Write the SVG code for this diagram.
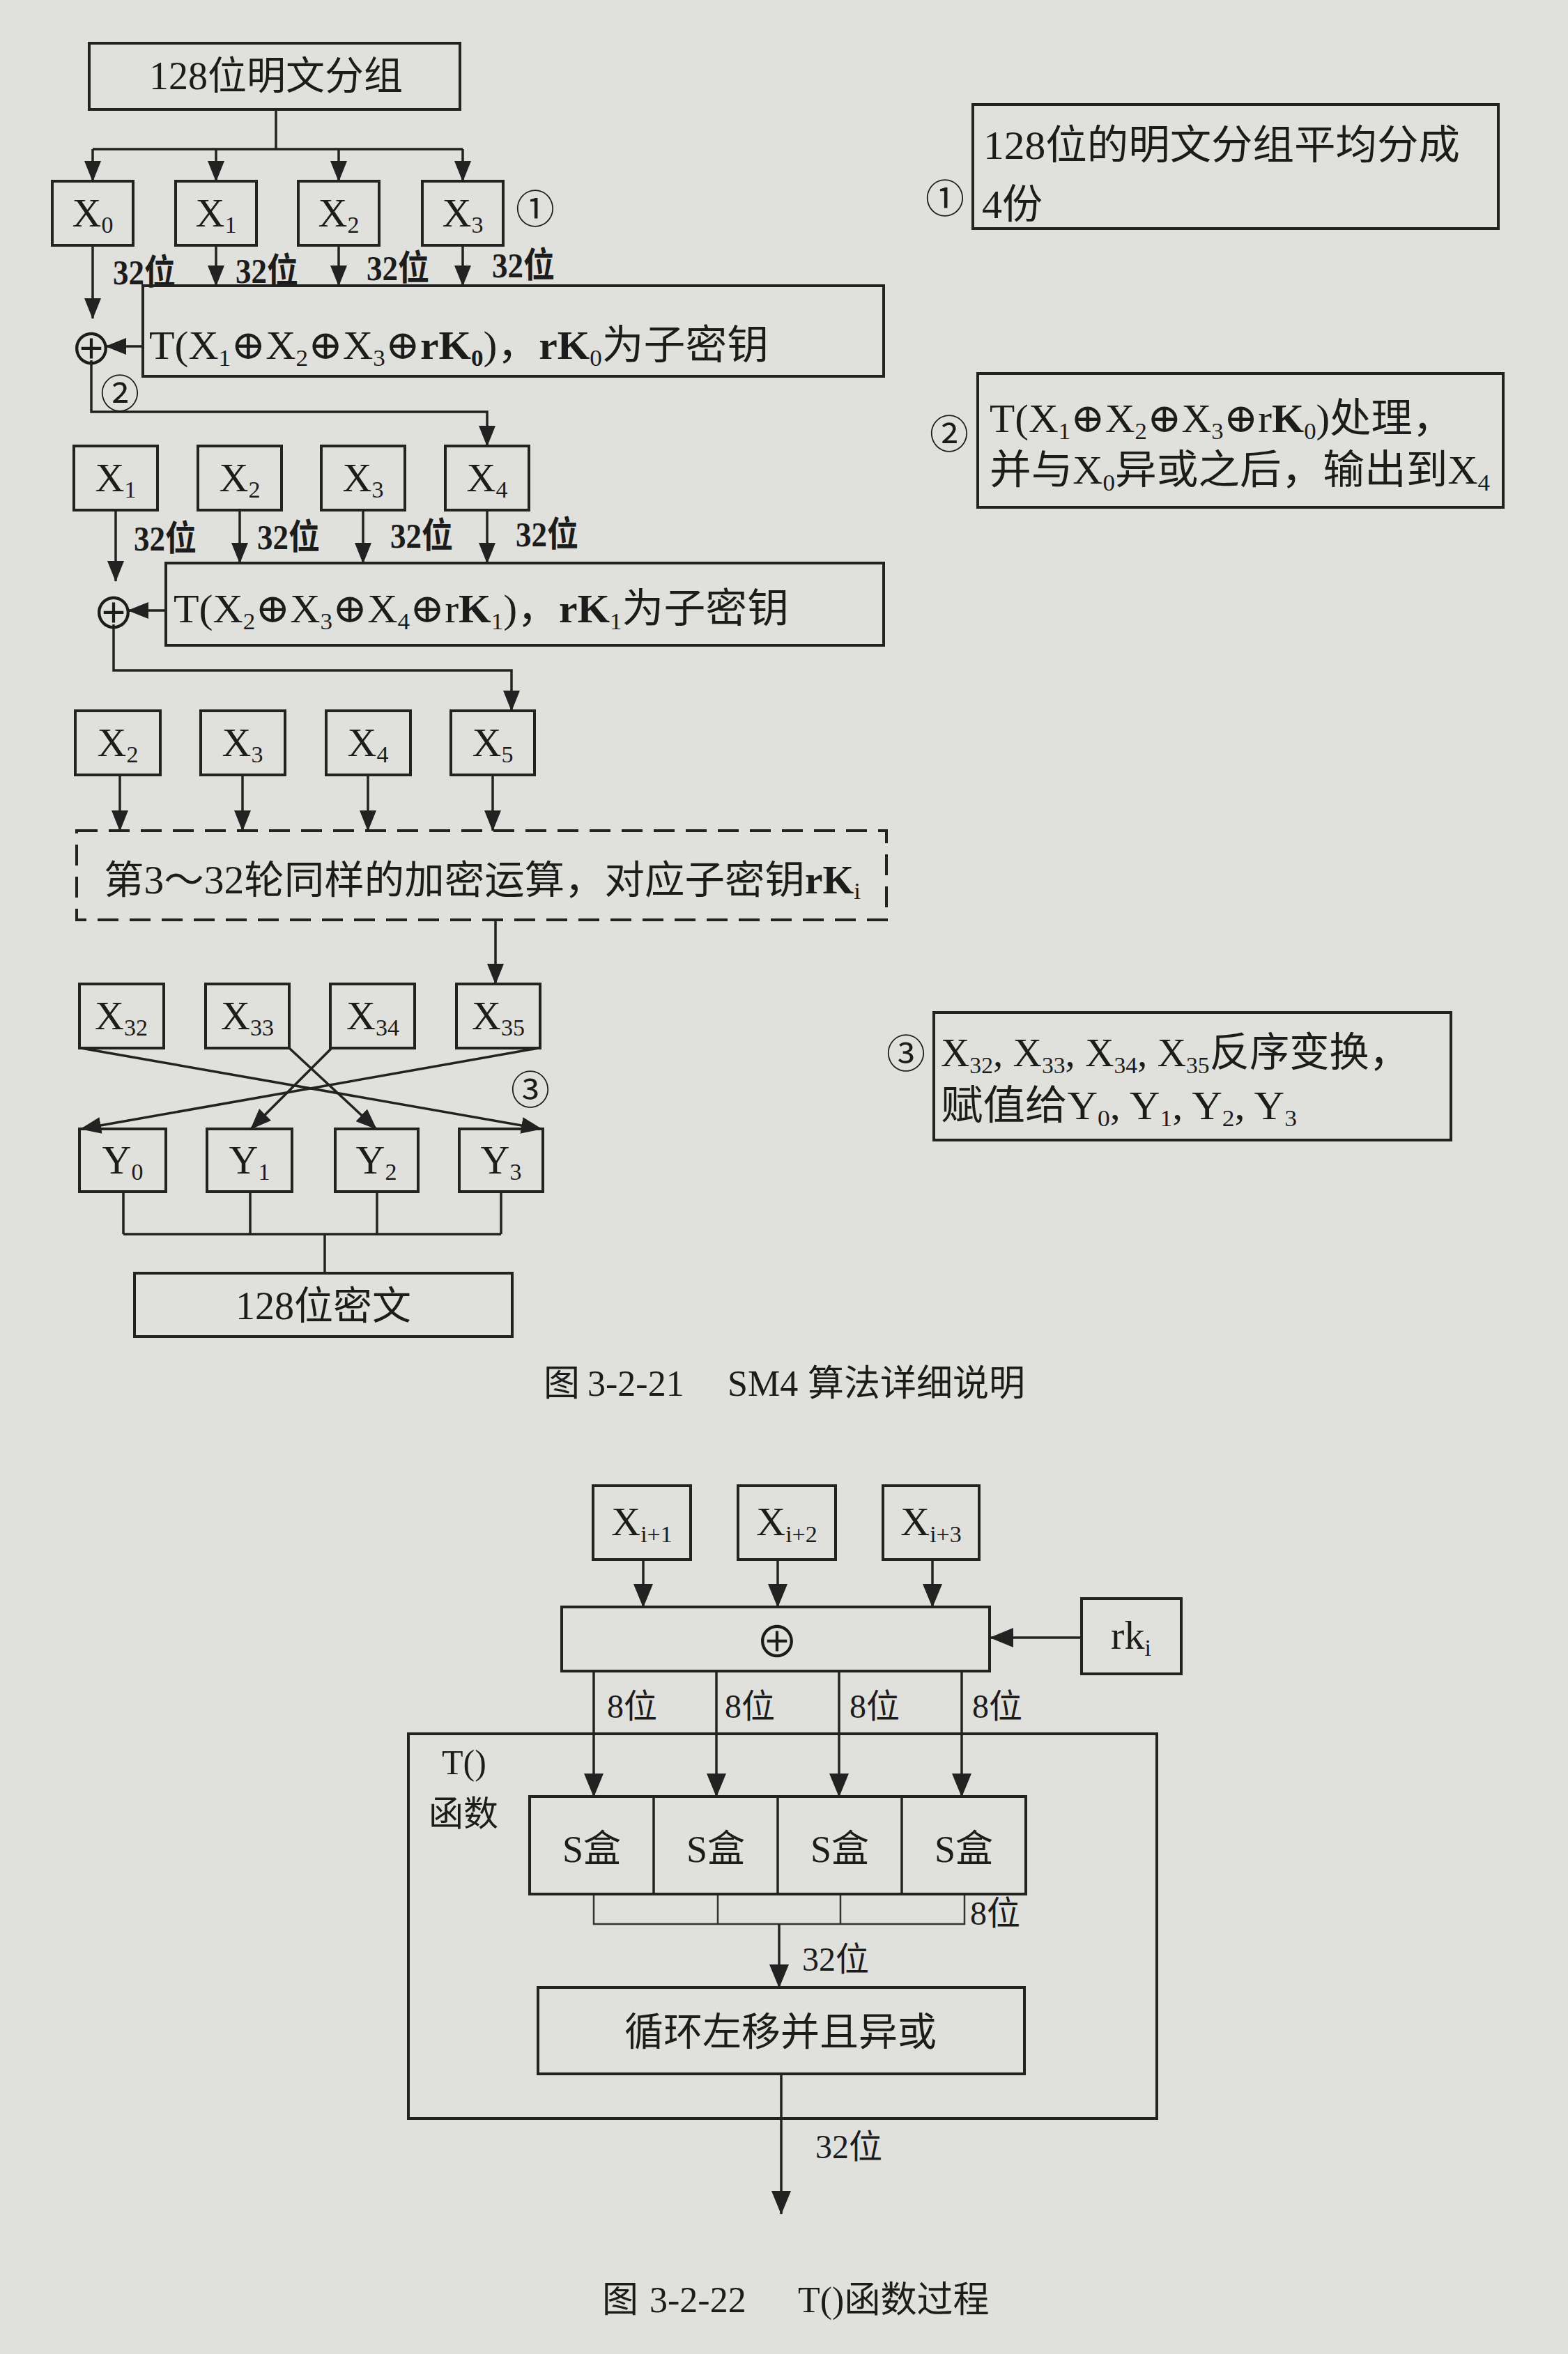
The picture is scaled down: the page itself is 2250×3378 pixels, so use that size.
<svg xmlns="http://www.w3.org/2000/svg" width="2250" height="3378" viewBox="0 0 2250 3378">
<defs>
<style>
.bx{fill:none;stroke:#222;stroke-width:4}
.ln{fill:none;stroke:#222;stroke-width:3.5}
.thin{fill:none;stroke:#333;stroke-width:2.5}
.dash{fill:none;stroke:#222;stroke-width:4;stroke-dasharray:30 16}
text{font-family:"Liberation Serif","DejaVu Serif","DejaVu Sans","Noto Sans CJK SC",serif;fill:#1c1c1c}
.c{font-family:"Noto Sans CJK SC","DejaVu Sans",sans-serif;font-size:56px}
.x{font-family:"Noto Sans CJK SC","DejaVu Sans",sans-serif;font-size:62px}
.s{font-size:34px}
.lb{font-weight:bold;font-size:50px}
.m{font-size:58px}
</style>
<marker id="ah" viewBox="0 0 30 24" refX="29" refY="12" markerWidth="30" markerHeight="24" markerUnits="userSpaceOnUse" orient="auto"><path d="M0,0 L30,12 L0,24 z" fill="#222"/></marker>
<marker id="ah2" viewBox="0 0 34 28" refX="33" refY="14" markerWidth="34" markerHeight="28" markerUnits="userSpaceOnUse" orient="auto"><path d="M0,0 L34,14 L0,28 z" fill="#222"/></marker>
</defs>
<rect x="0" y="0" width="2250" height="3378" fill="#e0e0dc"/>

<g id="connectors">
<path class="ln" d="M396,157 V214 M133,214 H664"/>
<path class="ln" marker-end="url(#ah)" d="M133,214 V260"/>
<path class="ln" marker-end="url(#ah)" d="M310,214 V260"/>
<path class="ln" marker-end="url(#ah)" d="M486,214 V260"/>
<path class="ln" marker-end="url(#ah)" d="M664,214 V260"/>
<path class="ln" marker-end="url(#ah)" d="M133,352 V457"/>
<path class="ln" marker-end="url(#ah)" d="M310,352 V410"/>
<path class="ln" marker-end="url(#ah)" d="M486,352 V410"/>
<path class="ln" marker-end="url(#ah)" d="M664,352 V410"/>
<path class="ln" marker-end="url(#ah)" d="M205,497 H152"/>
<path class="ln" marker-end="url(#ah)" d="M131,517 V591 H699 V640"/>
<path class="ln" marker-end="url(#ah)" d="M166,732 V834"/>
<path class="ln" marker-end="url(#ah)" d="M344,732 V808"/>
<path class="ln" marker-end="url(#ah)" d="M521,732 V808"/>
<path class="ln" marker-end="url(#ah)" d="M699,732 V808"/>
<path class="ln" marker-end="url(#ah)" d="M238,876 H184"/>
<path class="ln" marker-end="url(#ah)" d="M163,896 V962 H734 V1020"/>
<path class="ln" marker-end="url(#ah)" d="M172,1112 V1192"/>
<path class="ln" marker-end="url(#ah)" d="M348,1112 V1192"/>
<path class="ln" marker-end="url(#ah)" d="M528,1112 V1192"/>
<path class="ln" marker-end="url(#ah)" d="M707,1112 V1192"/>
<path class="ln" marker-end="url(#ah)" d="M711,1320 V1412"/>
<path class="ln" marker-end="url(#ah)" d="M116,1504 L777,1620"/>
<path class="ln" marker-end="url(#ah)" d="M773,1504 L116,1620"/>
<path class="ln" marker-end="url(#ah)" d="M415,1504 L540,1620"/>
<path class="ln" marker-end="url(#ah)" d="M476,1504 L360,1620"/>
<path class="ln" d="M177,1710 V1771 M359,1710 V1771 M541,1710 V1771 M719,1710 V1771 M177,1771 H719 M466,1771 V1827"/>
<path class="ln" marker-end="url(#ah2)" d="M923,2238 V2306"/>
<path class="ln" marker-end="url(#ah2)" d="M1116,2238 V2306"/>
<path class="ln" marker-end="url(#ah2)" d="M1338,2238 V2306"/>
<path class="ln" marker-end="url(#ah2)" d="M1552,2350 H1421"/>
<path class="ln" marker-end="url(#ah2)" d="M852,2398 V2578"/>
<path class="ln" marker-end="url(#ah2)" d="M1028,2398 V2578"/>
<path class="ln" marker-end="url(#ah2)" d="M1204,2398 V2578"/>
<path class="ln" marker-end="url(#ah2)" d="M1380,2398 V2578"/>
<path class="thin" d="M852,2718 V2761 H1384 V2718 M1030,2718 V2761 M1206,2718 V2761"/>
<path class="ln" marker-end="url(#ah2)" d="M1118,2761 V2852"/>
<path class="ln" marker-end="url(#ah2)" d="M1121,2976 V3177"/>
<text class="lb" x="162" y="408" textLength="90" lengthAdjust="spacingAndGlyphs">32位</text>
<text class="lb" x="338" y="406" textLength="90" lengthAdjust="spacingAndGlyphs">32位</text>
<text class="lb" x="526" y="402" textLength="90" lengthAdjust="spacingAndGlyphs">32位</text>
<text class="lb" x="706" y="398" textLength="90" lengthAdjust="spacingAndGlyphs">32位</text>
<text class="lb" x="192" y="790" textLength="90" lengthAdjust="spacingAndGlyphs">32位</text>
<text class="lb" x="369" y="788" textLength="90" lengthAdjust="spacingAndGlyphs">32位</text>
<text class="lb" x="560" y="786" textLength="90" lengthAdjust="spacingAndGlyphs">32位</text>
<text class="lb" x="740" y="784" textLength="90" lengthAdjust="spacingAndGlyphs">32位</text>
<text font-size="48" x="871" y="2465">8位</text>
<text font-size="48" x="1040" y="2465">8位</text>
<text font-size="48" x="1219" y="2465">8位</text>
<text font-size="48" x="1395" y="2465">8位</text>
<text font-size="48" x="1392" y="2762">8位</text>
<text font-size="48" x="1151" y="2828">32位</text>
<text font-size="48" x="1170" y="3097">32位</text>
</g>

<g id="plaintext">
<rect class="bx" x="128" y="62" width="532" height="95"/>
<text x="396" y="128" font-size="56" text-anchor="middle">128位明文分组</text>
</g>

<g id="row1">
<rect class="bx" x="75" y="260" width="116" height="92"/>
<text class="m" x="133" y="325" text-anchor="middle">X<tspan class="s" dy="9">0</tspan></text>
<rect class="bx" x="252" y="260" width="116" height="92"/>
<text class="m" x="310" y="325" text-anchor="middle">X<tspan class="s" dy="9">1</tspan></text>
<rect class="bx" x="428" y="260" width="116" height="92"/>
<text class="m" x="486" y="325" text-anchor="middle">X<tspan class="s" dy="9">2</tspan></text>
<rect class="bx" x="606" y="260" width="116" height="92"/>
<text class="m" x="664" y="325" text-anchor="middle">X<tspan class="s" dy="9">3</tspan></text>
<text class="c" x="768" y="295" text-anchor="middle" dominant-baseline="central">①</text>
</g>

<g id="round1">
<rect class="bx" x="205" y="410" width="1063" height="130"/>
<text class="m" x="214" y="515" textLength="889" lengthAdjust="spacingAndGlyphs">T(X<tspan class="s" dy="10">1</tspan><tspan dy="-10">⊕X</tspan><tspan class="s" dy="10">2</tspan><tspan dy="-10">⊕X</tspan><tspan class="s" dy="10">3</tspan><tspan dy="-10">⊕</tspan><tspan font-weight="bold">rK</tspan><tspan class="s" font-weight="bold" dy="10">0</tspan><tspan dy="-10">)，</tspan><tspan font-weight="bold">rK</tspan><tspan class="s" dy="10">0</tspan><tspan dy="-10">为子密钥</tspan></text>
<text class="x" x="131" y="497" text-anchor="middle" dominant-baseline="central">⊕</text>
<text class="c" x="172" y="560" text-anchor="middle" dominant-baseline="central">②</text>
</g>

<g id="row2">
<rect class="bx" x="106" y="640" width="120" height="92"/>
<text class="m" x="166" y="705" text-anchor="middle">X<tspan class="s" dy="9">1</tspan></text>
<rect class="bx" x="284" y="640" width="120" height="92"/>
<text class="m" x="344" y="705" text-anchor="middle">X<tspan class="s" dy="9">2</tspan></text>
<rect class="bx" x="461" y="640" width="120" height="92"/>
<text class="m" x="521" y="705" text-anchor="middle">X<tspan class="s" dy="9">3</tspan></text>
<rect class="bx" x="639" y="640" width="120" height="92"/>
<text class="m" x="699" y="705" text-anchor="middle">X<tspan class="s" dy="9">4</tspan></text>
</g>

<g id="round2">
<rect class="bx" x="238" y="808" width="1030" height="118"/>
<text class="m" x="249" y="893" textLength="883" lengthAdjust="spacingAndGlyphs">T(X<tspan class="s" dy="10">2</tspan><tspan dy="-10">⊕X</tspan><tspan class="s" dy="10">3</tspan><tspan dy="-10">⊕X</tspan><tspan class="s" dy="10">4</tspan><tspan dy="-10">⊕r</tspan><tspan font-weight="bold">K</tspan><tspan class="s" dy="10">1</tspan><tspan dy="-10">)，</tspan><tspan font-weight="bold">rK</tspan><tspan class="s" dy="10">1</tspan><tspan dy="-10">为子密钥</tspan></text>
<text class="x" x="163" y="876" text-anchor="middle" dominant-baseline="central">⊕</text>
</g>

<g id="row3">
<rect class="bx" x="108" y="1020" width="122" height="92"/>
<text class="m" x="169" y="1085" text-anchor="middle">X<tspan class="s" dy="9">2</tspan></text>
<rect class="bx" x="288" y="1020" width="121" height="92"/>
<text class="m" x="348" y="1085" text-anchor="middle">X<tspan class="s" dy="9">3</tspan></text>
<rect class="bx" x="468" y="1020" width="121" height="92"/>
<text class="m" x="528" y="1085" text-anchor="middle">X<tspan class="s" dy="9">4</tspan></text>
<rect class="bx" x="647" y="1020" width="120" height="92"/>
<text class="m" x="707" y="1085" text-anchor="middle">X<tspan class="s" dy="9">5</tspan></text>
</g>

<g id="rounds3to32">
<rect class="dash" x="110" y="1192" width="1162" height="128"/>
<text font-size="56" x="149" y="1282" textLength="1086" lengthAdjust="spacingAndGlyphs">第3～32轮同样的加密运算，对应子密钥<tspan font-weight="bold">rK</tspan><tspan class="s" dy="8">i</tspan></text>
</g>

<g id="row4">
<rect class="bx" x="114" y="1412" width="121" height="92"/>
<text class="m" x="174" y="1477" text-anchor="middle">X<tspan class="s" dy="9">32</tspan></text>
<rect class="bx" x="295" y="1412" width="120" height="92"/>
<text class="m" x="355" y="1477" text-anchor="middle">X<tspan class="s" dy="9">33</tspan></text>
<rect class="bx" x="474" y="1412" width="121" height="92"/>
<text class="m" x="535" y="1477" text-anchor="middle">X<tspan class="s" dy="9">34</tspan></text>
<rect class="bx" x="655" y="1412" width="120" height="92"/>
<text class="m" x="715" y="1477" text-anchor="middle">X<tspan class="s" dy="9">35</tspan></text>
<text class="c" x="761" y="1559" text-anchor="middle" dominant-baseline="central">③</text>
</g>

<g id="rowY">
<rect class="bx" x="114" y="1620" width="124" height="90"/>
<text class="m" x="176" y="1684" text-anchor="middle">Y<tspan class="s" dy="9">0</tspan></text>
<rect class="bx" x="297" y="1620" width="122" height="90"/>
<text class="m" x="358" y="1684" text-anchor="middle">Y<tspan class="s" dy="9">1</tspan></text>
<rect class="bx" x="481" y="1620" width="119" height="90"/>
<text class="m" x="540" y="1684" text-anchor="middle">Y<tspan class="s" dy="9">2</tspan></text>
<rect class="bx" x="659" y="1620" width="120" height="90"/>
<text class="m" x="719" y="1684" text-anchor="middle">Y<tspan class="s" dy="9">3</tspan></text>
</g>

<g id="ciphertext">
<rect class="bx" x="193" y="1827" width="542" height="91"/>
<text x="464" y="1893" font-size="56" text-anchor="middle">128位密文</text>
</g>

<g id="caption1">
<text font-size="52" y="2003"><tspan x="780">图</tspan><tspan x="843">3-2-21</tspan><tspan x="1044">SM4</tspan><tspan x="1159">算法详细说明</tspan></text>
</g>

<g id="note1">
<text class="c" x="1356" y="280" text-anchor="middle" dominant-baseline="central">①</text>
<rect class="bx" x="1396" y="150" width="754" height="178"/>
<text font-size="58" x="1411" y="228" textLength="684" lengthAdjust="spacingAndGlyphs">128位的明文分组平均分成</text>
<text font-size="58" x="1409" y="313">4份</text>
</g>

<g id="note2">
<text class="c" x="1362" y="618" text-anchor="middle" dominant-baseline="central">②</text>
<rect class="bx" x="1403" y="536" width="754" height="192"/>
<text font-size="58" x="1420" y="620" textLength="666" lengthAdjust="spacingAndGlyphs">T(X<tspan class="s" dy="10">1</tspan><tspan dy="-10">⊕X</tspan><tspan class="s" dy="10">2</tspan><tspan dy="-10">⊕X</tspan><tspan class="s" dy="10">3</tspan><tspan dy="-10">⊕r</tspan><tspan font-weight="bold">K</tspan><tspan class="s" dy="10">0</tspan><tspan dy="-10">)处理，</tspan></text>
<text font-size="58" x="1420" y="694" textLength="718" lengthAdjust="spacingAndGlyphs">并与X<tspan class="s" dy="10">0</tspan><tspan dy="-10">异或之后，输出到X</tspan><tspan class="s" dy="10">4</tspan></text>
</g>

<g id="note3">
<text class="c" x="1300" y="1507" text-anchor="middle" dominant-baseline="central">③</text>
<rect class="bx" x="1340" y="1453" width="742" height="183"/>
<text font-size="58" x="1350" y="1530" textLength="672" lengthAdjust="spacingAndGlyphs">X<tspan class="s" dy="10">32</tspan><tspan dy="-10">, X</tspan><tspan class="s" dy="10">33</tspan><tspan dy="-10">, X</tspan><tspan class="s" dy="10">34</tspan><tspan dy="-10">, X</tspan><tspan class="s" dy="10">35</tspan><tspan dy="-10">反序变换，</tspan></text>
<text font-size="58" x="1350" y="1606" textLength="511" lengthAdjust="spacingAndGlyphs">赋值给Y<tspan class="s" dy="10">0</tspan><tspan dy="-10">, Y</tspan><tspan class="s" dy="10">1</tspan><tspan dy="-10">, Y</tspan><tspan class="s" dy="10">2</tspan><tspan dy="-10">, Y</tspan><tspan class="s" dy="10">3</tspan></text>
</g>

<g id="Xi1">
<rect class="bx" x="851" y="2132" width="140" height="106"/>
<text class="m" x="921" y="2203" text-anchor="middle">X<tspan class="s" dy="10">i+1</tspan></text>
</g>
<g id="Xi2">
<rect class="bx" x="1059" y="2132" width="140" height="106"/>
<text class="m" x="1129" y="2203" text-anchor="middle">X<tspan class="s" dy="10">i+2</tspan></text>
</g>
<g id="Xi3">
<rect class="bx" x="1267" y="2132" width="138" height="106"/>
<text class="m" x="1336" y="2203" text-anchor="middle">X<tspan class="s" dy="10">i+3</tspan></text>
</g>
<g id="xorbox">
<rect class="bx" x="806" y="2306" width="614" height="92"/>
<text class="x" x="1115" y="2352" text-anchor="middle" dominant-baseline="central" font-size="84">⊕</text>
</g>
<g id="rki">
<rect class="bx" x="1552" y="2294" width="143" height="108"/>
<text class="m" x="1623" y="2366" text-anchor="middle">rk<tspan class="s" dy="10">i</tspan></text>
</g>
<g id="Tfunc">
<rect class="bx" x="586" y="2488" width="1074" height="552"/>
<text font-size="50" x="634" y="2546">T()</text>
<text font-size="50" x="615" y="2620">函数</text>
</g>
<g id="sboxes">
<rect class="bx" x="760" y="2578" width="712" height="140"/>
<path class="ln" d="M938,2578 V2718 M1116,2578 V2718 M1294,2578 V2718"/>
<text font-size="54" x="849" y="2672" text-anchor="middle">S盒</text>
<text font-size="54" x="1027" y="2672" text-anchor="middle">S盒</text>
<text font-size="54" x="1205" y="2672" text-anchor="middle">S盒</text>
<text font-size="54" x="1383" y="2672" text-anchor="middle">S盒</text>
</g>
<g id="rotxor">
<rect class="bx" x="772" y="2852" width="698" height="124"/>
<text font-size="56" x="1120" y="2935" text-anchor="middle">循环左移并且异或</text>
</g>
<g id="caption2">
<text font-size="52" y="3318"><tspan x="864">图</tspan><tspan x="932">3-2-22</tspan><tspan x="1145">T()函数过程</tspan></text>
</g>
</svg>
